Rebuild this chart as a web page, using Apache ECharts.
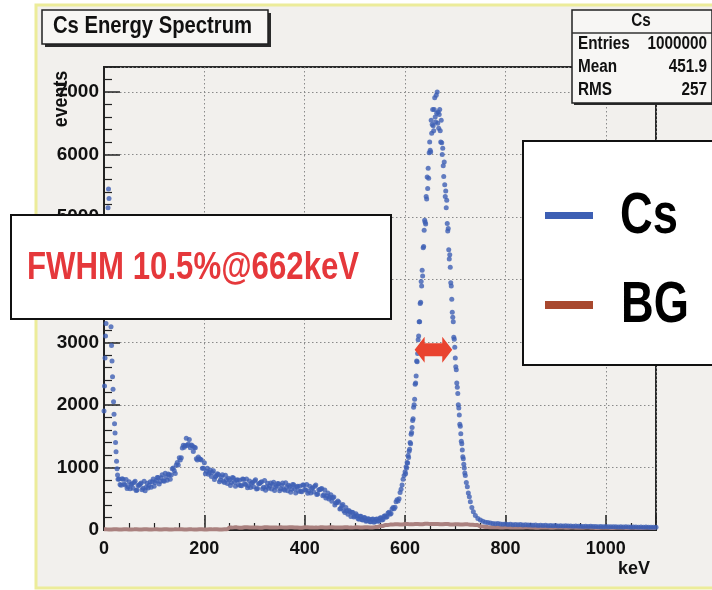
<!DOCTYPE html>
<html><head><meta charset="utf-8">
<script src="https://cdn.jsdelivr.net/npm/echarts@6/dist/echarts.min.js"></script>
<style>html,body{margin:0;padding:0;background:#fff}#c{width:712px;height:590px}</style>
</head><body><div id="c"></div>
<script>
// ---- data ----
const chartTitle = 'Cs Energy Spectrum';
const statsTitle = 'Cs';
const statsRows = [['Entries', '1000000'], ['Mean', '451.9'], ['RMS', '257']];
const legendItems = ['Cs', 'BG'];
const annotationText = 'FWHM 10.5%@662keV';
const xAxisTitle = 'keV';
const yAxisTitle = 'events';
const fwhmArrow = [619, 694, 2880]; // from keV, to keV, at events

const csLowEnergy = [0,1,2,3,4,5,6,7,8,9,10,11,12,13,14,15,16,17,18,19,20,21,22,23,24,25,26,27,28];
const csLowCounts = [1900,2300,2750,3100,3300,3700,4200,4700,5150,5450,5300,4900,4300,3700,3250,2950,2700,2450,2250,2050,1850,1700,1550,1400,1250,1100,980,880,810];

const csComptonEnergy = [30,34,38,42,46,50,54,58,62,66,70,74,78,82,86,90,94,98,102,106,110,114,118,122,126,130,134,138,142,146,150,154,158,162,166,170,174,178,182,186,190,194,198,202,206,210,214,218,222,226,230,234,238,242,246,250,254,258,262,266,270,274,278,282,286,290,294,298,302,306,310,314,318,322,326,330,334,338,342,346,350,354,358,362,366,370,374,378,382,386,390,394,398,402,406,410,414,418,422,426,430,434,438,442,446,450,454,458,462,466,470,474,478,482,486,490,494,498,502,506,510,514,518,522,526,530,534,538,542,546,550,554,558,562,566,570,574,578,582,586];
const csComptonCounts = [815,715,812,721,662,770,727,669,778,639,715,752,669,627,748,715,685,815,761,838,735,837,789,908,795,885,880,992,905,1080,1155,1155,1355,1350,1350,1445,1360,1255,1315,1120,1140,1120,985,900,985,920,855,945,850,900,770,850,780,876,743,805,761,832,698,804,795,706,812,728,674,785,746,692,803,665,742,773,685,637,748,705,657,764,682,744,627,714,652,754,626,694,651,723,591,698,700,613,720,638,586,700,662,608,718,575,645,665,563,510,590,525,460,527,430,463,335,389,308,359,252,290,284,208,258,184,220,164,199,141,179,132,170,125,173,140,190,160,220,205,270,250,335,340,450,465];

const csCompton2Energy = [32,36,40,44,48,52,56,60,64,68,72,76,80,84,88,92,96,100,104,108,112,116,120,124,128,132,136,140,144,148,152,156,160,164,168,172,176,180,184,188,192,196,200,204,208,212,216,220,224,228,232,236,240,244,248,252,256,260,264,268,272,276,280,284,288,292,296,300,304,308,312,316,320,324,328,332,336,340,344,348,352,356,360,364,368,372,376,380,384,388,392,396,400,404,408,412,416,420,424,428,432,436,440,444,448,452,456,460,464,468,472,476,480,484,488,492,496,500,504,508,512,516,520,524,528,532,536,540,544,548,552,556,560,564,568,572,576,580,584,588];
const csCompton2Counts = [727,818,736,806,693,661,738,761,631,712,736,643,780,685,671,772,770,698,792,839,776,883,781,849,895,812,978,948,1037,1040,1117,1310,1322,1465,1375,1315,1347,1322,1140,1165,1132,985,1075,940,892,960,920,807,867,887,800,885,760,807,829,713,839,765,796,722,713,814,740,816,707,678,759,785,656,738,760,661,793,690,666,753,730,633,705,738,660,753,635,687,715,602,729,657,689,621,619,721,649,727,620,593,675,700,569,645,657,546,640,542,497,562,516,398,441,444,347,406,281,308,311,217,281,220,231,172,219,159,195,147,175,131,175,136,176,142,197,167,227,212,282,265,360,365,485,500];

const csPeakEnergy = [590,592,594,596,598,600,601,602,603,604,605,606,607,608,609,610,611,612,613,614,615,616,617,618,619,620,621,622,623,624,625,626,627,628,629,630,631,632,633,634,635,636,637,638,639,640,641,642,643,644,645,646,647,648,649,650,651,652,653,654,655,656,657,658,659,660,661,662,663,664,665,666,667,668,669,670,671,672,673,674,675,676,677,678,679,680,681,682,683,684,685,686,687,688,689,690,691,692,693,694,695,696,697,698,699,700,701,702,703,704,705,706,707,708,709,710,711,712,713,714,715,716,717,718,719,720,722,724,726,728,730,733,736,740,745,750,755,760,765,770];
const csPeakCounts = [600,650,720,810,870,930,900,1010,990,1080,1070,1190,1160,1260,1290,1400,1380,1530,1560,1640,1750,1780,1960,2000,2090,2330,2350,2460,2700,2690,2820,3040,3100,3330,3330,3620,3640,3970,3900,4150,4060,4510,4530,4790,4950,4920,4890,5330,5290,5640,5460,5780,5620,6030,6200,6070,6040,6550,6340,6480,6720,6460,6380,6720,6910,6600,6520,6950,6660,7000,6500,6680,6420,6640,6720,6380,6200,6550,6190,6000,6100,5820,5650,5880,5520,5330,5420,5150,5270,4900,4780,4820,4480,4330,4400,4200,3950,3900,3690,3480,3400,3330,3080,3050,2920,2750,2610,2560,2350,2280,2180,2000,1950,1840,1690,1660,1540,1420,1380,1280,1170,1140,1050,990,910,870,760,690,590,530,450,360,290,230,185,160,140,125,120,110];

const csTailEnergy = [775,780,785,790,795,800,805,810,815,820,825,830,835,840,845,850,855,860,865,870,875,880,885,890,895,900,905,910,915,920,925,930,935,940,945,950,955,960,965,970,975,980,985,990,995,1000,1005,1010,1015,1020,1025,1030,1035,1040,1045,1050,1055,1060,1065,1070,1075,1080,1085,1090,1095,1100];
const csTailCounts = [105,98,104,95,92,97,88,91,85,89,82,86,80,83,78,81,75,79,73,76,71,74,69,72,67,70,65,68,64,66,62,65,60,63,59,61,57,60,56,58,55,57,53,56,52,54,51,53,50,52,49,51,48,50,47,49,46,48,45,47,44,46,43,45,42,44];

const bgEnergy = [0,10,20,30,40,50,60,70,80,90,100,110,120,130,140,150,160,170,180,190,200,210,220,230,240,250,260,270,280,290,300,310,320,330,340,350,360,370,380,390,400,410,420,430,440,450,460,470,480,490,500,510,520,530,540,550,560,570,580,590,600,610,620,630,640,650,660,670,680,690,700,710,720,730,740,750,760,770,780,790,800,810,820,830,840,850,860,870,880,890,900,910,920,930,940,950,960,970,980,990,1000,1010,1020,1030,1040,1050,1060,1070,1080,1090,1100];
const bgCounts = [10,8,12,9,11,7,10,9,12,8,10,9,11,8,10,12,9,10,8,11,9,10,12,9,10,38,42,36,44,39,41,37,43,40,38,42,39,44,40,37,43,41,38,42,40,44,39,41,43,38,42,40,44,41,46,62,78,86,92,88,95,90,97,93,99,94,96,91,97,89,93,88,90,84,78,55,46,42,44,40,43,39,41,38,42,40,37,41,39,36,40,38,35,39,37,34,38,36,33,37,35,32,36,34,31,35,33,30,34,32,30];

// ---- build ----
const pairs = (e, n) => e.map((v, i) => [v, n[i]]);
const csData = [].concat(
  pairs(csLowEnergy, csLowCounts),
  pairs(csComptonEnergy, csComptonCounts),
  pairs(csCompton2Energy, csCompton2Counts),
  pairs(csPeakEnergy, csPeakCounts),
  pairs(csTailEnergy, csTailCounts)
);
const bgData = pairs(bgEnergy, bgCounts);

const SANS = "'Liberation Sans', Arial, Helvetica, sans-serif";
const NARROW = "'Liberation Sans Narrow', 'Arial Narrow', 'Liberation Sans', Arial, sans-serif";
const CS_COLOR = '#3d5fb4';
const BG_LINE = '#aa817f';
const BG_LEGEND = '#a8482e';
const PAD = '#f2f0ed';

const chart = echarts.init(document.getElementById('c'), null, {renderer: 'canvas'});

const staticGraphics = [
  {type: 'rect', z: -10, silent: true, shape: {x: 36, y: 5, width: 690, height: 583},
   style: {fill: PAD, stroke: '#ecec9a', lineWidth: 3}},
  {type: 'text', z: 50, x: 61, y: 99, rotation: Math.PI / 2, scaleX: 0.85,
   style: {text: yAxisTitle, font: 'bold 21px ' + SANS, fill: '#111', align: 'center', verticalAlign: 'middle'}},
  {type: 'text', z: 50, x: 650, y: 569,
   style: {text: xAxisTitle, font: 'bold 18px ' + NARROW, fill: '#111', align: 'right', verticalAlign: 'middle'}},
  {type: 'rect', z: 60, shape: {x: 45, y: 13, width: 226, height: 34}, style: {fill: '#2a2a2a'}},
  {type: 'rect', z: 61, shape: {x: 42, y: 10, width: 226, height: 34}, style: {fill: '#f7f6f4', stroke: '#222', lineWidth: 1.5}},
  {type: 'text', z: 62, x: 53, y: 27, scaleX: 0.88,
   style: {text: chartTitle, font: 'bold 23px ' + SANS, fill: '#111', align: 'left', verticalAlign: 'middle'}},
  {type: 'rect', z: 60, shape: {x: 574, y: 12, width: 140, height: 93}, style: {fill: '#2a2a2a'}},
  {type: 'rect', z: 61, shape: {x: 572, y: 10, width: 140, height: 93}, style: {fill: '#f7f6f4', stroke: '#222', lineWidth: 1.5}},
  {type: 'line', z: 62, shape: {x1: 572, y1: 33, x2: 712, y2: 33}, style: {stroke: '#333', lineWidth: 1.5}},
  {type: 'text', z: 62, x: 641, y: 21, scaleX: 0.85,
   style: {text: statsTitle, font: 'bold 18px ' + SANS, fill: '#111', align: 'center', verticalAlign: 'middle'}},
  {type: 'rect', z: 70, shape: {x: 11, y: 215, width: 380, height: 104}, style: {fill: '#ffffff', stroke: '#111', lineWidth: 2}},
  {type: 'text', z: 71, x: 27, y: 268, scaleX: 0.8,
   style: {text: annotationText, font: 'bold 39px ' + SANS, fill: '#e5383b', align: 'left', verticalAlign: 'middle'}},
  {type: 'rect', z: 70, shape: {x: 523, y: 141, width: 200, height: 224}, style: {fill: '#ffffff', stroke: '#111', lineWidth: 2}},
  {type: 'rect', z: 71, shape: {x: 545, y: 212, width: 48, height: 7}, style: {fill: CS_COLOR}},
  {type: 'rect', z: 71, shape: {x: 545, y: 301, width: 48, height: 8}, style: {fill: BG_LEGEND}},
  {type: 'text', z: 71, x: 620, y: 217, scaleX: 0.78,
   style: {text: legendItems[0], font: 'bold 58px ' + SANS, fill: '#000', align: 'left', verticalAlign: 'middle'}},
  {type: 'text', z: 71, x: 621, y: 306, scaleX: 0.78,
   style: {text: legendItems[1], font: 'bold 58px ' + SANS, fill: '#000', align: 'left', verticalAlign: 'middle'}}
];
statsRows.forEach((r, i) => {
  const y = 44 + i * 23;
  staticGraphics.push({type: 'text', z: 62, x: 578, y: y, scaleX: 0.85,
    style: {text: r[0], font: 'bold 18px ' + SANS, fill: '#111', align: 'left', verticalAlign: 'middle'}});
  staticGraphics.push({type: 'text', z: 62, x: 707, y: y, scaleX: 0.85,
    style: {text: r[1], font: 'bold 18px ' + SANS, fill: '#111', align: 'right', verticalAlign: 'middle'}});
});

const plainNumber = v => String(v);

const option = {
  animation: false,
  backgroundColor: '#ffffff',
  grid: {left: 104, right: 56, top: 67, bottom: 60, show: true, borderColor: '#2a2a2a', borderWidth: 2, backgroundColor: 'transparent'},
  xAxis: {
    type: 'value', min: 0, max: 1100, interval: 200,
    axisLine: {show: true, onZero: false, lineStyle: {color: '#222', width: 2}},
    axisTick: {show: true, inside: true, length: 15, lineStyle: {color: '#222', width: 1.5}},
    minorTick: {show: true, splitNumber: 4, length: 7, lineStyle: {color: '#222', width: 1.2}},
    axisLabel: {margin: 10, color: '#111', fontSize: 18, fontWeight: 'bold', fontFamily: NARROW, showMaxLabel: false, formatter: plainNumber},
    splitLine: {show: true, lineStyle: {color: '#8a8a8a', type: [1.5, 2.5], width: 1}}
  },
  yAxis: {
    type: 'value', min: 0, max: 7400, interval: 1000,
    axisLine: {show: true, onZero: false, lineStyle: {color: '#222', width: 2}},
    axisTick: {show: true, inside: true, length: 16, lineStyle: {color: '#222', width: 1.5}},
    minorTick: {show: true, splitNumber: 5, length: 8, lineStyle: {color: '#222', width: 1.2}},
    axisLabel: {margin: 5, color: '#111', fontSize: 19, fontWeight: 'bold', fontFamily: NARROW, showMaxLabel: false, formatter: plainNumber},
    splitLine: {show: true, lineStyle: {color: '#8a8a8a', type: [1.5, 2.5], width: 1}}
  },
  series: [
    {name: 'BG', type: 'line', step: 'middle', data: bgData, symbol: 'none', z: 2,
     lineStyle: {color: BG_LINE, width: 4}},
    {name: 'Cs', type: 'scatter', data: csData, symbolSize: 5, z: 3,
     itemStyle: {color: CS_COLOR}}
  ],
  graphic: staticGraphics
};
chart.setOption(option);

const pL = chart.convertToPixel({gridIndex: 0}, [fwhmArrow[0], fwhmArrow[2]]);
const pR = chart.convertToPixel({gridIndex: 0}, [fwhmArrow[1], fwhmArrow[2]]);
const yc = pL[1], x1 = pL[0], x2 = pR[0], hl = 10, h1 = 6.5, h2 = 13;
staticGraphics.push({type: 'polygon', z: 40, shape: {points: [
  [x1, yc], [x1 + hl, yc - h2], [x1 + hl, yc - h1], [x2 - hl, yc - h1], [x2 - hl, yc - h2], [x2, yc],
  [x2 - hl, yc + h2], [x2 - hl, yc + h1], [x1 + hl, yc + h1], [x1 + hl, yc + h2]
]}, style: {fill: '#e9432f'}});
chart.setOption({graphic: staticGraphics}, {replaceMerge: ['graphic']});
</script>
</body></html>
